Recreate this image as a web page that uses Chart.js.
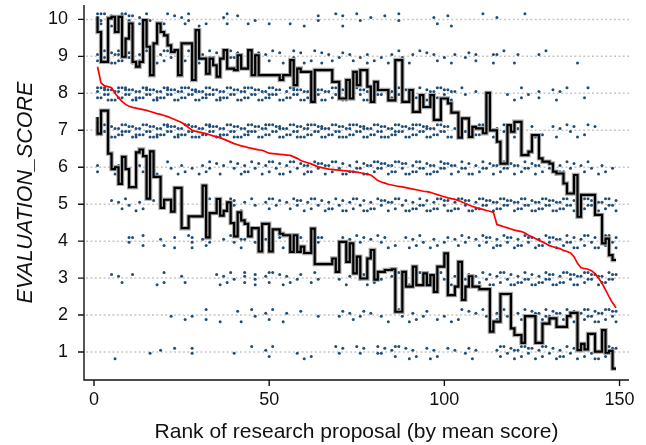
<!DOCTYPE html>
<html>
<head>
<meta charset="utf-8">
<script src="https://cdn.jsdelivr.net/npm/chart.js@4.4.1/dist/chart.umd.min.js"></script>
<style>
  html, body { margin: 0; padding: 0; background: #fff; }
  #wrap { width: 646px; height: 445px; }
</style>
</head>
<body>
<div id="wrap"><canvas id="chart" width="646" height="445"></canvas></div>
<script>
// ticks
const X_TICKS = [0, 50, 100, 150];
const Y_TICKS = [1, 2, 3, 4, 5, 6, 7, 8, 9, 10];

// mean score per proposal, ranks 1..149
const MEAN_SCORE = [
  8.72, 8.28, 8.20, 8.18, 8.15, 8.00, 7.88, 7.78, 7.70, 7.65,
  7.62, 7.60, 7.58, 7.56, 7.54, 7.51, 7.48, 7.45, 7.43, 7.40,
  7.37, 7.33, 7.29, 7.25, 7.21, 7.15, 7.07, 7.00, 6.97, 6.95,
  6.93, 6.91, 6.88, 6.85, 6.83, 6.80, 6.76, 6.72, 6.68, 6.64,
  6.61, 6.58, 6.56, 6.53, 6.51, 6.49, 6.47, 6.46, 6.42, 6.38,
  6.37, 6.36, 6.35, 6.34, 6.33, 6.32, 6.28, 6.24, 6.18, 6.15,
  6.12, 6.09, 6.05, 6.01, 5.99, 5.97, 5.95, 5.94, 5.93, 5.92,
  5.91, 5.90, 5.89, 5.88, 5.87, 5.85, 5.83, 5.81, 5.79, 5.72,
  5.64, 5.60, 5.57, 5.54, 5.52, 5.50, 5.48, 5.47, 5.45, 5.43,
  5.41, 5.39, 5.37, 5.35, 5.34, 5.32, 5.29, 5.26, 5.23, 5.20,
  5.17, 5.15, 5.13, 5.10, 5.06, 5.02, 4.98, 4.94, 4.91, 4.88,
  4.86, 4.83, 4.81, 4.78, 4.45, 4.42, 4.39, 4.36, 4.33, 4.30,
  4.28, 4.26, 4.22, 4.16, 4.12, 4.07, 4.02, 3.98, 3.93, 3.88,
  3.85, 3.82, 3.80, 3.75, 3.72, 3.68, 3.58, 3.40, 3.28, 3.26,
  3.24, 3.20, 3.12, 3.00, 2.86, 2.68, 2.50, 2.33, 2.20
];

// mean + 1 sd
const UPPER_SD = [
  10.08, 9.66, 8.85, 8.85, 10.03, 10.07, 9.66, 10.07, 8.99, 9.48,
  9.89, 8.85, 8.72, 8.85, 9.98, 9.26, 8.49, 9.35, 9.89, 9.66,
  9.57, 9.30, 9.12, 9.17, 8.49, 9.35, 9.35, 9.35, 8.36, 9.71,
  8.94, 8.94, 8.53, 8.94, 8.76, 8.45, 8.94, 9.17, 8.67, 8.67,
  8.63, 9.03, 8.67, 8.67, 9.17, 8.49, 9.03, 8.49, 8.49, 8.49,
  8.49, 8.49, 8.49, 8.36, 8.49, 8.49, 8.90, 8.22, 8.67, 8.58,
  8.58, 8.58, 7.77, 8.63, 8.63, 8.63, 8.63, 8.63, 8.31, 8.31,
  7.86, 7.86, 8.36, 7.86, 8.58, 8.22, 8.63, 8.63, 8.18, 7.77,
  8.31, 8.09, 8.09, 8.09, 7.81, 7.81, 8.90, 8.90, 7.77, 7.77,
  8.09, 7.50, 7.50, 7.95, 7.63, 7.63, 7.95, 7.28, 7.28, 7.86,
  7.86, 7.73, 7.48, 7.48, 6.80, 7.32, 7.32, 6.82, 7.09, 7.05,
  7.05, 6.92, 8.01, 7.00, 7.00, 6.69, 6.10, 6.10, 7.14, 6.96,
  7.23, 7.23, 6.33, 6.33, 6.42, 6.87, 6.87, 6.24, 6.15, 6.15,
  6.10, 5.88, 5.83, 5.83, 5.56, 5.29, 5.29, 5.79, 4.66, 5.25,
  5.25, 5.25, 5.25, 4.71, 4.71, 3.94, 4.07, 3.62, 3.49
];

// mean - 1 sd
const LOWER_SD = [
  7.36, 6.91, 7.53, 7.53, 6.37, 5.95, 6.00, 5.55, 6.28, 5.95,
  5.46, 5.46, 6.40, 6.48, 6.30, 5.15, 6.43, 5.74, 5.74, 4.90,
  5.12, 5.12, 4.80, 5.44, 5.44, 4.35, 4.35, 4.67, 4.67, 4.67,
  4.67, 5.50, 4.10, 4.76, 4.76, 5.14, 4.69, 4.82, 5.05, 4.49,
  4.13, 4.78, 4.56, 4.47, 4.13, 4.35, 4.35, 3.72, 4.47, 4.47,
  3.72, 4.32, 4.32, 4.20, 4.16, 4.16, 3.71, 4.16, 3.71, 3.85,
  3.68, 3.68, 4.34, 3.38, 3.38, 3.38, 3.38, 3.38, 3.53, 3.17,
  3.98, 3.98, 3.44, 3.94, 3.13, 3.58, 2.99, 2.99, 3.53, 3.76,
  2.96, 3.17, 3.17, 3.22, 3.22, 3.24, 2.09, 2.09, 3.17, 2.77,
  2.77, 3.31, 2.81, 2.81, 3.13, 2.81, 3.08, 2.63, 3.31, 3.31,
  3.67, 2.54, 2.54, 2.77, 3.44, 2.41, 2.77, 3.05, 2.77, 2.77,
  2.70, 2.70, 2.70, 1.55, 1.82, 1.82, 2.57, 2.57, 2.57, 1.64,
  1.46, 1.46, 1.25, 1.97, 1.97, 1.97, 1.25, 1.25, 1.77, 1.77,
  1.91, 1.91, 1.68, 1.68, 1.68, 1.97, 2.06, 2.06, 1.05, 1.22,
  1.07, 1.49, 1.49, 1.01, 1.01, 1.59, 0.98, 1.03, 0.55
];

// number of individual evaluations with each score, per rank 1..149
const COUNT_10 = [
  3,3,1,1,2,3,1,2,1,2, 1,0,2,1,2,1,0,1,0,1, 1,0,1,0,1,1,2,0,0,1,
  0,1,0,0,0,0,1,2,0,0, 1,0,0,1,0,1,0,0,0,1, 0,0,0,0,0,1,0,0,0,1,
  0,0,0,2,0,0,0,0,1,0, 2,0,0,0,1,1,0,0,1,0, 0,0,1,0,0,0,2,0,0,0,
  0,0,0,0,0,0,1,1,0,0, 1,1,0,0,0,0,0,0,0,0, 1,0,0,0,1,0,0,0,0,0,
  0,0,1,0,0,0,0,0,0,0, 0,0,0,0,0,0,0,0,0,0, 0,0,0,0,0,0,0,0,0
];
const COUNT_9 = [
  2,3,2,1,2,2,3,2,1,2, 2,1,2,2,1,1,2,1,1,2, 1,2,1,1,2,1,1,2,1,1,
  1,1,2,1,1,1,0,1,2,1, 1,1,0,1,2,1,1,0,1,1, 1,0,1,1,0,1,2,0,1,1,
  0,1,1,0,2,0,1,1,0,1, 1,0,1,1,0,1,0,2,0,1, 0,1,0,1,1,0,1,1,0,1,
  1,0,1,0,1,0,1,1,0,1, 0,1,1,0,0,1,1,0,2,0, 0,0,0,2,1,0,1,0,0,1,
  1,0,0,0,0,0,1,0,1,0, 0,0,0,0,0,0,0,1,0,0, 0,0,0,0,0,0,0,0,0
];
const COUNT_8 = [
  3,2,3,3,2,2,3,2,3,2, 2,3,2,2,3,2,2,3,2,2, 3,2,2,2,3,2,2,2,3,2,
  2,3,2,2,2,3,2,2,2,2, 2,2,3,2,2,2,2,2,2,3, 2,2,2,1,2,2,3,2,2,2,
  2,2,1,2,2,2,1,2,2,2, 2,1,2,2,1,2,2,2,1,2, 2,2,1,2,2,1,2,2,1,2,
  2,1,2,1,2,2,1,2,1,2, 1,2,1,0,1,1,0,0,1,0, 0,1,0,0,0,0,0,1,0,1,
  0,2,0,1,0,0,2,0,0,0, 1,1,1,0,1,0,0,0,0,1, 1,0,0,0,0,0,0,0,0
];
const COUNT_7 = [
  2,1,2,1,2,2,2,3,2,2, 2,3,2,2,2,3,2,3,2,2, 3,2,2,3,2,2,2,3,2,2,
  2,2,3,2,2,3,2,2,2,3, 2,2,2,3,2,2,2,2,3,2, 2,2,3,2,2,2,2,3,2,2,
  3,2,2,2,3,2,2,2,2,3, 2,2,3,2,2,2,3,2,2,2, 2,3,2,2,2,3,2,2,2,2,
  3,2,2,2,3,2,2,2,2,2, 2,1,1,1,2,1,1,1,2,2, 2,1,1,1,1,0,2,1,1,1,
  1,0,0,0,1,1,0,1,0,0, 1,1,1,0,1,1,1,1,0,1, 1,0,1,0,0,0,0,0,0
];
const COUNT_6 = [
  2,0,0,0,1,1,1,0,0,1, 0,1,1,1,0,1,0,1,0,0, 1,1,0,1,1,1,0,1,0,1,
  1,1,2,0,1,1,1,0,1,1, 1,1,2,1,1,1,1,1,1,2, 1,1,2,1,1,2,1,1,1,2,
  2,1,1,2,1,2,1,2,1,1, 2,1,2,1,2,1,2,2,1,2, 2,2,1,2,2,2,1,2,2,1,
  2,2,2,1,2,2,2,1,2,2, 1,2,1,1,2,1,2,1,1,1, 2,1,1,2,1,1,2,1,1,2,
  1,1,2,1,1,2,1,1,1,2, 1,1,2,1,1,1,1,0,1,1, 1,1,0,1,1,1,0,1,0
];
const COUNT_5 = [
  0,0,0,0,1,0,1,1,1,1, 0,1,1,1,0,0,1,0,1,0, 0,1,0,0,1,0,0,0,0,0,
  0,0,1,0,0,0,0,1,1,2, 0,1,1,0,1,1,0,0,1,2, 1,1,1,0,1,1,1,2,1,1,
  1,2,1,1,1,1,2,1,1,1, 2,1,1,2,1,1,2,1,2,1, 1,2,1,2,1,2,1,1,2,1,
  2,1,2,1,2,1,2,2,1,2, 2,1,2,2,1,2,2,1,2,2, 2,2,1,2,2,2,2,2,1,2,
  2,2,2,1,2,2,2,2,2,2, 2,2,2,2,2,1,2,2,2,2, 2,2,2,2,1,2,2,1,2
];
const COUNT_4 = [
  0,0,0,0,0,0,0,0,0,2, 1,0,0,2,0,0,0,0,1,1, 0,0,2,0,0,0,1,3,0,0,
  1,1,2,0,0,0,1,0,1,1, 0,2,1,0,0,1,0,0,1,1, 1,0,1,1,0,0,0,1,1,0,
  0,0,1,2,1,0,0,0,0,1, 1,0,1,0,1,1,1,0,1,0, 1,1,1,1,0,1,0,0,1,1,
  1,1,1,1,0,1,1,1,0,1, 1,0,1,1,1,1,1,0,1,1, 1,2,1,1,2,1,1,2,1,1,
  2,1,1,2,1,1,2,1,1,2, 1,2,1,1,2,1,2,1,1,2, 1,1,2,1,1,2,1,1,2
];
const COUNT_3 = [
  0,0,0,0,1,0,1,1,0,0, 1,0,0,0,0,0,0,1,0,2, 0,0,0,0,1,1,0,0,0,0,
  0,0,0,0,1,1,1,1,1,1, 0,0,3,0,0,3,0,0,1,2, 1,0,1,1,1,1,0,1,1,0,
  0,1,1,1,0,0,0,0,1,1, 0,1,1,0,1,1,1,1,0,1, 1,1,0,0,1,0,1,1,0,1,
  1,1,1,0,1,1,1,0,1,1, 0,1,1,1,0,1,1,1,1,1, 1,1,2,1,1,2,1,1,2,1,
  2,1,2,1,2,1,2,1,2,2, 2,1,2,2,1,2,2,2,1,2, 2,2,1,2,2,1,2,2,1
];
const COUNT_2 = [
  0,0,0,0,0,0,0,0,0,0, 0,0,0,0,0,0,0,0,0,0, 0,1,0,0,0,1,0,1,0,0,
  0,2,0,0,0,1,0,0,0,0, 1,1,0,0,1,1,0,0,1,1, 1,0,0,1,1,0,0,0,1,0,
  0,0,0,1,0,0,0,0,0,1, 1,0,1,1,0,1,1,0,1,0, 0,1,0,1,0,0,1,1,0,1,
  1,1,0,1,1,0,0,1,0,1, 0,1,0,1,1,0,1,0,1,0, 1,1,0,1,2,1,1,1,1,0,
  1,1,2,1,1,2,1,1,2,1, 1,2,1,1,2,1,2,2,1,2, 2,1,2,2,1,2,1,2,2
];
const COUNT_1 = [
  0,0,0,0,0,1,0,0,0,0, 0,0,0,0,0,1,0,0,1,0, 0,0,1,0,0,0,0,2,0,0,
  0,0,0,0,0,0,0,0,0,1, 0,0,0,0,1,0,0,0,1,1, 1,0,0,0,0,0,0,1,0,1,
  0,1,0,0,0,0,0,0,1,1, 1,0,0,0,1,1,1,0,0,0, 2,1,1,0,1,2,1,0,1,1,
  1,1,0,0,1,1,1,1,0,0, 1,0,1,0,0,1,1,1,1,0, 0,0,0,0,1,2,1,1,1,2,
  1,2,1,2,1,1,1,2,1,1, 1,1,2,1,1,1,1,2,1,2, 1,1,2,1,1,1,1,2,1
];

const SCORE_LEVELS = [10, 9, 8, 7, 6, 5, 4, 3, 2, 1];
const SCORE_COUNTS = [COUNT_10, COUNT_9, COUNT_8, COUNT_7, COUNT_6, COUNT_5, COUNT_4, COUNT_3, COUNT_2, COUNT_1];

// small vertical spread so that tied scores stay visible
const SPREAD = [0.05, -0.12, 0.15, -0.03, 0.1, -0.18];

const dots = [];
SCORE_LEVELS.forEach((score, i) => {
    SCORE_COUNTS[i].forEach((n, r) => {
        for (let k = 0; k < n; k++) {
            dots.push({ x: r + 1, y: score + SPREAD[(k + r) % SPREAD.length] });
        }
    });
});

const toPoints = arr => arr.map((v, i) => ({ x: i + 1, y: v }));

const FONT = "'Liberation Sans', Arial, Helvetica, sans-serif";

// dotted grid, axis lines and tick marks in the Stata look
const framePlugin = {
    id: 'frame',
    beforeDatasetsDraw(chart) {
        const { ctx, chartArea: a, scales: { y } } = chart;
        ctx.save();
        ctx.strokeStyle = '#c6c6c6';
        ctx.lineWidth = 1.5;
        ctx.setLineDash([2, 2.4]);
        Y_TICKS.forEach(v => {
            const py = y.getPixelForValue(v);
            ctx.beginPath();
            ctx.moveTo(a.left + 2, py);
            ctx.lineTo(a.right, py);
            ctx.stroke();
        });
        ctx.restore();
    },
    afterDraw(chart) {
        const { ctx, chartArea: a, scales: { x, y } } = chart;
        ctx.save();
        ctx.strokeStyle = '#111';
        ctx.lineWidth = 1.4;
        ctx.beginPath();
        ctx.moveTo(a.left, a.top);
        ctx.lineTo(a.left, a.bottom);
        ctx.lineTo(a.right, a.bottom);
        ctx.stroke();
        ctx.beginPath();
        Y_TICKS.forEach(v => {
            const py = y.getPixelForValue(v);
            ctx.moveTo(a.left - 6, py);
            ctx.lineTo(a.left, py);
        });
        X_TICKS.forEach(v => {
            const px = x.getPixelForValue(v);
            ctx.moveTo(px, a.bottom);
            ctx.lineTo(px, a.bottom + 6);
        });
        ctx.stroke();
        ctx.restore();
    }
};

const lineDefaults = {
    showLine: true,
    pointRadius: 0,
    fill: false,
    tension: 0
};

new Chart(document.getElementById('chart'), {
    type: 'scatter',
    data: {
        datasets: [
            {
                label: 'scores',
                data: dots,
                pointRadius: 1.5,
                pointBorderWidth: 0,
                pointBackgroundColor: '#1f4e79',
                order: 5
            },
            { ...lineDefaults, label: 'upper halo', data: toPoints(UPPER_SD), borderColor: '#a8a8a8', borderWidth: 4.4, stepped: 'after', order: 4 },
            { ...lineDefaults, label: 'lower halo', data: toPoints(LOWER_SD), borderColor: '#a8a8a8', borderWidth: 4.4, stepped: 'after', order: 4 },
            { ...lineDefaults, label: 'mean + sd', data: toPoints(UPPER_SD), borderColor: '#000', borderWidth: 2.2, stepped: 'after', order: 3 },
            { ...lineDefaults, label: 'mean - sd', data: toPoints(LOWER_SD), borderColor: '#000', borderWidth: 2.2, stepped: 'after', order: 3 },
            { ...lineDefaults, label: 'mean', data: toPoints(MEAN_SCORE), borderColor: '#ff0000', borderWidth: 1.7, order: 1 }
        ]
    },
    options: {
        responsive: false,
        animation: false,
        layout: { padding: { top: 5, right: 17, left: 0, bottom: 0 } },
        plugins: {
            legend: { display: false },
            tooltip: { enabled: false }
        },
        scales: {
            x: {
                type: 'linear',
                min: -2.86,
                max: 152.7,
                grid: { display: false },
                border: { display: false },
                afterBuildTicks: s => { s.ticks = X_TICKS.map(v => ({ value: v })); },
                afterFit: s => { s.height = 65; s.paddingLeft = 0; s.paddingRight = 0; },
                ticks: {
                    padding: 1,
                    color: '#111',
                    font: { family: FONT, size: 18 },
                    maxRotation: 0
                },
                title: {
                    display: true,
                    text: 'Rank of research proposal (by mean score)',
                    color: '#111',
                    font: { family: FONT, size: 21 },
                    padding: { top: 0, bottom: 0 }
                }
            },
            y: {
                type: 'linear',
                min: 0.243,
                max: 10.39,
                grid: { display: false },
                border: { display: false },
                afterBuildTicks: s => { s.ticks = Y_TICKS.map(v => ({ value: v })); },
                afterFit: s => { s.width = 84; s.paddingTop = 0; s.paddingBottom = 0; },
                ticks: {
                    padding: 8,
                    color: '#111',
                    font: { family: FONT, size: 18 }
                },
                title: {
                    display: true,
                    text: 'EVALUATION_SCORE',
                    color: '#111',
                    font: { family: FONT, size: 21.5, style: 'italic' },
                    padding: { top: 13, bottom: 0 }
                }
            }
        }
    },
    plugins: [framePlugin]
});
</script>
</body>
</html>
